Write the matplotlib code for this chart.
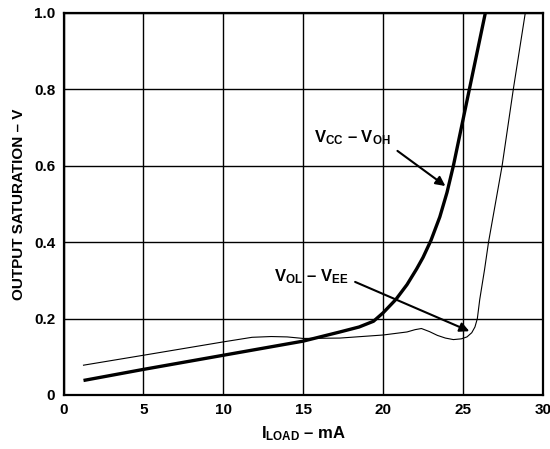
import matplotlib.pyplot as plt

# values (I_LOAD in mA, saturation in V)
vcc_voh_x = [1.25, 5, 10, 15, 17.3, 18.5, 19.4, 20, 20.8, 21.5, 22.1, 22.5,
             23.0, 23.55, 24.0, 24.4, 24.9, 25.4, 26.4]
vcc_voh_y = [0.038, 0.067, 0.104, 0.141, 0.165, 0.178, 0.193, 0.215, 0.25,
             0.289, 0.33, 0.36, 0.405, 0.466, 0.53, 0.6, 0.7, 0.8, 1.0]

vol_vee_x = [1.25, 5, 10, 11.8, 13.0, 14.0, 15, 17.3, 20, 21.5, 22.0, 22.4,
             22.9, 23.4, 23.9, 24.4, 24.9, 25.25, 25.55, 25.75, 25.9, 26.05,
             26.35, 26.6, 27.45, 28.15, 28.9]
vol_vee_y = [0.078, 0.104, 0.139, 0.151, 0.153, 0.152, 0.148, 0.149, 0.157,
             0.165, 0.171, 0.174, 0.166, 0.156, 0.149, 0.145, 0.147, 0.152,
             0.163, 0.178, 0.2, 0.25, 0.328, 0.4, 0.6, 0.8, 1.0]

x_ticks = [0, 5, 10, 15, 20, 25, 30]
y_ticks = [0, 0.2, 0.4, 0.6, 0.8, 1.0]
y_tick_labels = ["0", "0.2", "0.4", "0.6", "0.8", "1.0"]

plt.rcParams['font.family'] = ['Liberation Sans', 'DejaVu Sans']
plt.rcParams['font.weight'] = 'bold'
plt.rcParams['axes.labelweight'] = 'bold'
plt.rcParams['mathtext.fontset'] = 'custom'
plt.rcParams['mathtext.rm'] = 'Liberation Sans:bold'
plt.rcParams['mathtext.it'] = 'Liberation Sans:bold'
plt.rcParams['mathtext.bf'] = 'Liberation Sans:bold'

fig = plt.figure(figsize=(5.5, 4.49), dpi=100)
ax = fig.add_axes([0.1155, 0.1203, 0.8715, 0.8508])

ax.plot(vcc_voh_x, vcc_voh_y, color='black', lw=2.4, solid_capstyle='butt',
        solid_joinstyle='round')
ax.plot(vol_vee_x, vol_vee_y, color='black', lw=0.8, solid_joinstyle='round')

ax.set_xlim(0, 30)
ax.set_ylim(0, 1.0)
ax.set_xticks(x_ticks)
ax.set_yticks(y_ticks)
ax.set_yticklabels(y_tick_labels)
ax.tick_params(length=0, labelsize=11, pad=6)
ax.grid(True, color='black', lw=1.0)
for s in ax.spines.values():
    s.set_linewidth(1.6)

ax.set_xlabel(r"$\mathrm{I_{LOAD}}$ – mA", fontsize=12, fontweight='bold',
              labelpad=5)
ax.set_ylabel("OUTPUT SATURATION – V", fontsize=11, fontweight='bold',
              labelpad=6)

# curve labels with arrows
ax.text(15.7, 0.673, r"$\mathrm{V_{CC}}$ – $\mathrm{V_{OH}}$", fontsize=12,
        fontweight='bold', va='center', ha='left')
ax.annotate("", xy=(23.9, 0.547), xytext=(20.9, 0.639),
            arrowprops=dict(arrowstyle='-|>', color='black', lw=1.5,
                            mutation_scale=14, shrinkA=0, shrinkB=0))

ax.text(13.2, 0.309, r"$\mathrm{V_{OL}}$ – $\mathrm{V_{EE}}$", fontsize=12,
        fontweight='bold', va='center', ha='left')
ax.annotate("", xy=(25.4, 0.167), xytext=(18.25, 0.296),
            arrowprops=dict(arrowstyle='-|>', color='black', lw=1.5,
                            mutation_scale=14, shrinkA=0, shrinkB=0))

fig.savefig("out.png", dpi=100)
